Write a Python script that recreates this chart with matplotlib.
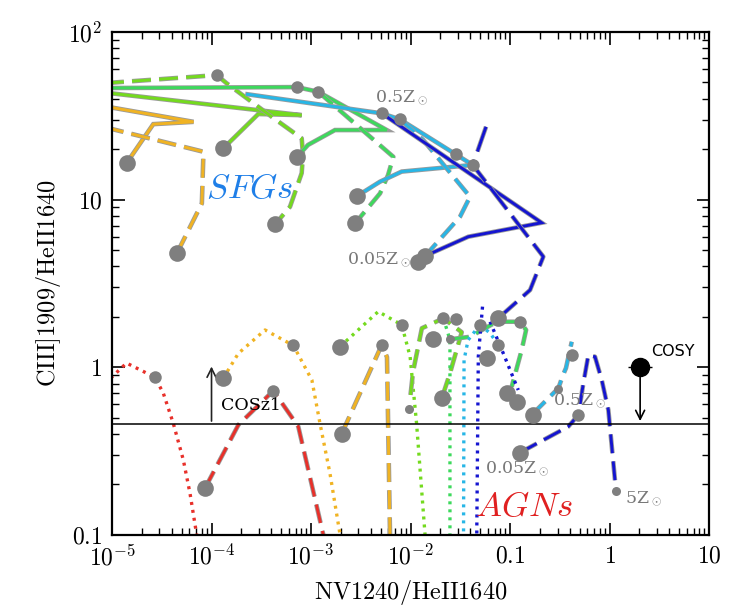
import numpy as np
import matplotlib.pyplot as plt
import matplotlib.patheffects as pe

plt.rcParams['mathtext.fontset'] = 'cm'
plt.rcParams['font.family'] = ['DejaVu Serif']

# ---- SFG model tracks (upper part) ----
sfg_or_solid_x = [8.5e-6, 6.6e-5, 2.6e-5, 1.4e-5]
sfg_or_solid_y = [36.0, 29.1, 28.2, 16.5]
sfg_or_dash_x = [8.5e-6, 8.3e-5, 8.0e-5, 4.5e-5]
sfg_or_dash_y = [27.0, 19.3, 9.5, 4.8]

sfg_yg_solid_x = [8.5e-6, 8.06e-4, 2.95e-4, 1.31e-4]
sfg_yg_solid_y = [43.5, 31.9, 32.4, 20.2]
sfg_yg_dash_x = [8.5e-6, 1.13e-4, 1.42e-4, 4.03e-4, 8.06e-4, 8.3e-4, 8.06e-4, 6.15e-4, 4.35e-4]
sfg_yg_dash_y = [49.5, 55.3, 49.4, 31.2, 23.2, 18.5, 14.4, 9.07, 7.12]

sfg_gr_solid_x = [8.5e-6, 7.18e-4, 1.18e-3, 5.77e-3, 1.74e-3, 9.33e-4, 7.18e-4]
sfg_gr_solid_y = [46.3, 46.9, 44.0, 26.0, 26.0, 21.2, 17.9]
sfg_gr_dash_x = [1.18e-3, 6.72e-3, 5.94e-3, 4.94e-3, 2.77e-3]
sfg_gr_dash_y = [44.0, 18.0, 14.0, 10.9, 7.22]

sfg_cy_solid_x = [2.3e-4, 5.14e-3, 7.84e-3, 2.86e-2, 4.22e-2, 8.16e-3, 4.94e-3, 2.9e-3]
sfg_cy_solid_y = [42.5, 32.7, 30.1, 18.6, 16.1, 14.7, 12.8, 10.5]
sfg_cy_dash_x = [7.84e-3, 1.34e-2, 3.96e-2, 3.14e-2, 1.40e-2]
sfg_cy_dash_y = [30.1, 22.7, 10.4, 7.9, 4.61]

sfg_bl_solid_x = [5.14e-3, 0.208, 3.81e-2, 1.40e-2]
sfg_bl_solid_y = [32.7, 7.28, 6.01, 4.61]
sfg_bl_dash_x = [5.74e-2, 4.22e-2, 0.216, 0.159, 7.9e-2]
sfg_bl_dash_y = [27.2, 16.1, 4.57, 2.89, 2.0]

# ---- AGN model tracks (lower part) ----
agn_red_dot_x = [8.5e-6, 1.4e-5, 2.7e-5, 3.28e-5, 4.13e-5, 5.21e-5, 6.08e-5, 7.1e-5]
agn_red_dot_y = [0.80, 1.06, 0.872, 0.70, 0.463, 0.28, 0.177, 0.1]
agn_red_dash_x = [8.6e-5, 1.86e-4, 4.18e-4, 7.45e-4, 1.33e-3]
agn_red_dash_y = [0.19, 0.453, 0.725, 0.443, 0.1]

agn_or_dot_x = [1.31e-4, 1.86e-4, 3.45e-4, 6.64e-4, 1.02e-3, 1.23e-3, 1.55e-3, 1.96e-3]
agn_or_dot_y = [0.86, 1.21, 1.67, 1.35, 0.84, 0.463, 0.233, 0.1]
agn_or_dash_x = [2.03e-3, 5.14e-3, 5.8e-3, 6.22e-3]
agn_or_dash_y = [0.40, 1.36, 1.15, 0.1]

agn_yg_dot_x = [1.96e-3, 4.74e-3, 8.16e-3, 9.9e-3, 1.15e-2, 1.4e-2]
agn_yg_dot_y = [1.33, 2.15, 1.79, 1.16, 0.463, 0.1]
agn_yg_dash_x = [1.0e-2, 1.06e-2, 1.30e-2, 2.14e-2, 3.27e-2, 2.49e-2, 2.06e-2]
agn_yg_dash_y = [0.684, 0.94, 1.71, 1.96, 1.62, 0.92, 0.653]

agn_gr_dot_x = [2.14e-2, 2.49e-2, 2.49e-2]
agn_gr_dot_y = [1.96, 1.46, 0.1]
agn_gr_dash_x = [2.49e-2, 3.96e-2, 7.35e-2, 0.126, 0.145, 0.131, 0.104]
agn_gr_dash_y = [1.47, 1.52, 1.87, 1.87, 1.67, 1.27, 0.766]

agn_cy_dot_x = [4.99e-2, 3.79e-2, 3.45e-2, 3.41e-2]
agn_cy_dot_y = [1.79, 1.455, 1.105, 0.1]
agn_cy_dot2_x = [4.99e-2, 6.3e-2, 7.63e-2]
agn_cy_dot2_y = [1.79, 1.60, 1.36]
agn_cy_dash_x = [0.165, 0.306, 0.341, 0.365, 0.417]
agn_cy_dash_y = [0.52, 0.75, 0.90, 0.99, 1.42]

agn_bl_dot_x = [5.29e-2, 4.8e-2, 4.63e-2]
agn_bl_dot_y = [2.30, 1.157, 0.1]
agn_bl_dot2_x = [6.3e-2, 8.56e-2, 0.121]
agn_bl_dot2_y = [1.87, 1.21, 0.732]
agn_bl_dash_x = [0.126, 0.385, 0.486, 0.545, 0.612, 0.714, 0.835, 0.973, 1.16]
agn_bl_dash_y = [0.31, 0.443, 0.52, 0.80, 1.18, 1.157, 0.84, 0.556, 0.184]

# ---- grey model points ----
big_dots_x = [1.4e-5, 4.5e-5, 1.31e-4, 4.35e-4, 7.18e-4, 2.77e-3, 2.9e-3, 1.2e-2, 1.40e-2,
              8.6e-5, 1.31e-4, 2.03e-3, 1.96e-3, 1.69e-2, 2.06e-2, 7.63e-2, 5.83e-2,
              9.27e-2, 0.117, 0.171, 0.126]
big_dots_y = [16.5, 4.8, 20.2, 7.12, 17.9, 7.22, 10.5, 4.27, 4.61,
              0.19, 0.86, 0.40, 1.33, 1.47, 0.653, 1.96, 1.13,
              0.70, 0.624, 0.52, 0.31]
mid_dots_x = [1.13e-4, 7.18e-4, 1.18e-3, 5.14e-3, 7.84e-3, 2.86e-2, 4.22e-2,
              2.7e-5, 4.18e-4, 6.64e-4, 5.14e-3, 8.16e-3, 2.14e-2, 2.86e-2, 4.99e-2,
              0.126, 7.5e-2, 0.417, 0.486]
mid_dots_y = [55.3, 46.9, 44.0, 32.7, 30.1, 18.6, 16.1,
              0.872, 0.725, 1.35, 1.36, 1.79, 1.96, 1.93, 1.79,
              1.87, 1.36, 1.18, 0.52]
small_dots_x = [9.73e-3, 2.49e-2, 0.306, 1.16]
small_dots_y = [0.562, 1.47, 0.74, 0.184]

# ---- observations ----
cosz1_x, cosz1_y_lim = 1.0e-4, [0.46, 1.05]
cosy_x, cosy_y = 2.03, 1.0
cosy_xerr = [[0.49], [0.64]]
hline_y = 0.46

RED, ORA, YG, GRN, CYA, BLU = '#e8302a', '#f0b323', '#74da1e', '#3dd95c', '#28b6e6', '#1515d0'

tracks = [
    (sfg_or_solid_x, sfg_or_solid_y, ORA, '-'), (sfg_or_dash_x, sfg_or_dash_y, ORA, '--'),
    (sfg_yg_solid_x, sfg_yg_solid_y, YG, '-'), (sfg_yg_dash_x, sfg_yg_dash_y, YG, '--'),
    (sfg_gr_solid_x, sfg_gr_solid_y, GRN, '-'), (sfg_gr_dash_x, sfg_gr_dash_y, GRN, '--'),
    (sfg_cy_solid_x, sfg_cy_solid_y, CYA, '-'), (sfg_cy_dash_x, sfg_cy_dash_y, CYA, '--'),
    (sfg_bl_solid_x, sfg_bl_solid_y, BLU, '-'), (sfg_bl_dash_x, sfg_bl_dash_y, BLU, 'long'),
    (agn_red_dot_x, agn_red_dot_y, RED, ':'), (agn_red_dash_x, agn_red_dash_y, RED, '--'),
    (agn_or_dot_x, agn_or_dot_y, ORA, ':'), (agn_or_dash_x, agn_or_dash_y, ORA, '--'),
    (agn_yg_dot_x, agn_yg_dot_y, YG, ':'), (agn_yg_dash_x, agn_yg_dash_y, YG, '--'),
    (agn_gr_dot_x, agn_gr_dot_y, GRN, ':'), (agn_gr_dash_x, agn_gr_dash_y, GRN, '--'),
    (agn_cy_dot_x, agn_cy_dot_y, CYA, ':'), (agn_cy_dot2_x, agn_cy_dot2_y, CYA, ':'),
    (agn_cy_dash_x, agn_cy_dash_y, CYA, '--'),
    (agn_bl_dot_x, agn_bl_dot_y, BLU, ':'), (agn_bl_dot2_x, agn_bl_dot2_y, BLU, ':'),
    (agn_bl_dash_x, agn_bl_dash_y, BLU, '--'),
]

fig = plt.figure(figsize=(7.34, 6.10), dpi=100)
ax = fig.add_axes([0.1526, 0.123, 0.8134, 0.8246])
ax.set_xscale('log')
ax.set_yscale('log')
ax.set_xlim(1e-5, 10)
ax.set_ylim(0.1, 100)

styles = {'-': '-', '--': (0, (6.5, 2.8)), 'long': (0, (9, 3)), ':': (0, (0.9, 1.5))}
outline = [pe.Stroke(linewidth=3.3, foreground='#9a9a9a'), pe.Normal()]
for xs, ys, col, ls in tracks:
    lw = 2.4 if ls == ':' else 2.1
    line, = ax.plot(xs, ys, color=col, lw=lw, linestyle=styles[ls], zorder=2,
                    dash_capstyle='butt', solid_joinstyle='miter')
    if ls != ':':
        line.set_path_effects(outline)

ax.plot(big_dots_x, big_dots_y, 'o', color='#7f7f7f', ms=12, mec='none', zorder=4)
ax.plot(mid_dots_x, mid_dots_y, 'o', color='#7f7f7f', ms=9, mec='none', zorder=4)
ax.plot(small_dots_x, small_dots_y, 'o', color='#7f7f7f', ms=6.5, mec='none', zorder=4)

ax.axhline(hline_y, color='black', lw=1.1, zorder=3)
ax.annotate('', xy=(cosz1_x, cosz1_y_lim[1]), xytext=(cosz1_x, cosz1_y_lim[0]),
            arrowprops=dict(arrowstyle='->', lw=1.2, color='#222222', mutation_scale=16))
ax.text(1.25e-4, 0.59, 'COSz1', fontsize=12.5, va='center', ha='left', family='DejaVu Serif')
ax.errorbar([cosy_x], [cosy_y], xerr=cosy_xerr, fmt='o', color='black', ms=13,
            elinewidth=1, capsize=0, zorder=5)
ax.annotate('', xy=(cosy_x, hline_y), xytext=(cosy_x, cosy_y),
            arrowprops=dict(arrowstyle='->', lw=1.2, color='black', mutation_scale=16))
ax.text(2.6, 1.25, 'COSY', fontsize=11.5, va='center', ha='left', family='DejaVu Sans')

gray = '#787878'
ax.text(8.2e-3, 40.4, r'0.5Z$_\odot$', color=gray, fontsize=12.5, ha='center', va='center')
ax.text(1.03e-2, 4.42, r'0.05Z$_\odot$', color=gray, fontsize=12.5, ha='right', va='center')
ax.text(0.50, 0.63, r'0.5Z$_\odot$', color=gray, fontsize=12.5, ha='center', va='center')
ax.text(0.1176, 0.2475, r'0.05Z$_\odot$', color=gray, fontsize=12.5, ha='center', va='center')
ax.text(1.43, 0.166, r'5Z$_\odot$', color=gray, fontsize=12.5, ha='left', va='center')

ax.text(2.4e-4, 11.7, r'$\mathit{SFGs}$', color='#1f7fe8', fontsize=25, ha='center', va='center')
ax.text(0.138, 0.149, r'$\mathit{AGNs}$', color='#e02020', fontsize=25, ha='center', va='center')

ax.set_xticks([1e-5, 1e-4, 1e-3, 1e-2, 0.1, 1, 10])
ax.set_xticklabels([r'$10^{-5}$', r'$10^{-4}$', r'$10^{-3}$', r'$10^{-2}$',
                    r'$0.1$', r'$1$', r'$10$'])
ax.set_yticks([0.1, 1, 10, 100])
ax.set_yticklabels([r'$0.1$', r'$1$', r'$10$', r'$10^2$'])
ax.tick_params(which='both', direction='in', top=True, right=True, labelsize=17)
ax.tick_params(which='major', length=9, width=1.2, pad=7)
ax.tick_params(which='minor', length=5, width=1.0)
for s in ax.spines.values():
    s.set_linewidth(1.6)

ax.set_xlabel(r'$\mathrm{NV1240/HeII1640}$', fontsize=17.5, labelpad=6)
ax.set_ylabel(r'$\mathrm{CIII]1909/HeII1640}$', fontsize=17.5, labelpad=4)

fig.savefig('out.png', dpi=100)
